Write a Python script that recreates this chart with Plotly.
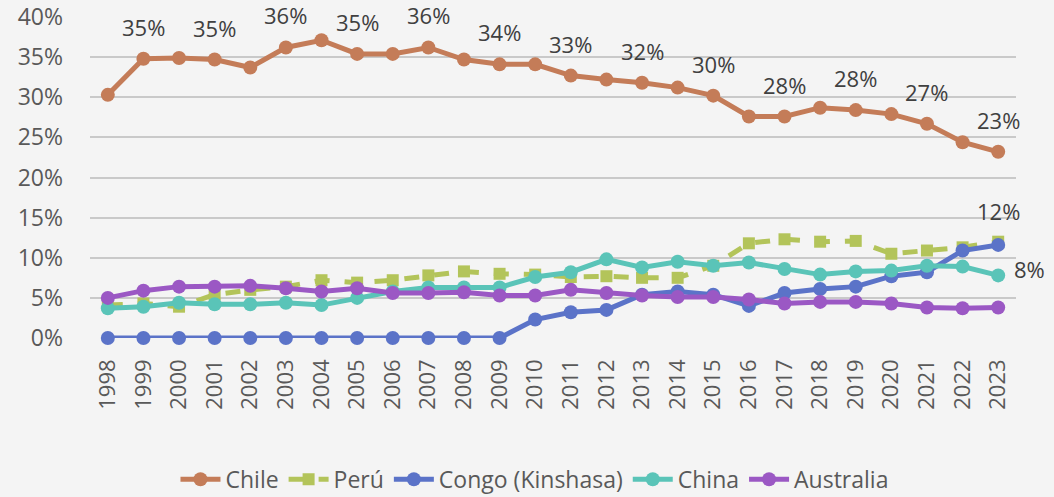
import plotly.graph_objects as go

years = list(range(1998, 2024))

chile = [30.3, 34.8, 34.9, 34.7, 33.7, 36.2, 37.1, 35.4, 35.4, 36.2, 34.7, 34.1, 34.1,
         32.7, 32.2, 31.8, 31.2, 30.2, 27.6, 27.6, 28.7, 28.4, 27.9, 26.7, 24.4, 23.2]
peru = [4.1, 4.3, 3.9, 5.4, 6.0, 6.4, 7.2, 6.9, 7.2, 7.8, 8.3, 8.0, 7.9,
        7.6, 7.7, 7.5, 7.5, 9.0, 11.8, 12.3, 12.0, 12.1, 10.5, 10.9, 11.3, 12.0]
congo = [0, 0, 0, 0, 0, 0, 0, 0, 0, 0, 0, 0, 2.3,
         3.2, 3.5, 5.4, 5.8, 5.4, 4.0, 5.6, 6.1, 6.4, 7.7, 8.2, 10.9, 11.6]
china = [3.7, 3.9, 4.4, 4.2, 4.2, 4.4, 4.1, 5.0, 5.8, 6.3, 6.3, 6.3, 7.6,
         8.2, 9.8, 8.8, 9.5, 9.0, 9.4, 8.6, 7.9, 8.3, 8.4, 9.0, 8.9, 7.8]
australia = [5.0, 5.9, 6.4, 6.4, 6.5, 6.2, 5.8, 6.2, 5.6, 5.6, 5.7, 5.3, 5.3,
             6.0, 5.6, 5.3, 5.1, 5.1, 4.8, 4.3, 4.5, 4.5, 4.3, 3.8, 3.7, 3.8]

y_ticks = [0, 5, 10, 15, 20, 25, 30, 35, 40]
y_tick_labels = [f"{v}%" for v in y_ticks]
x_tick_labels = [str(y) for y in years]

series = [
    ("Chile", chile, "#C47C58", "circle", "solid"),
    ("Perú", peru, "#B3C45A", "square", "dash"),
    ("Congo (Kinshasa)", congo, "#5B73C8", "circle", "solid"),
    ("China", china, "#5AC4B8", "circle", "solid"),
    ("Australia", australia, "#9B58C4", "circle", "solid"),
]

FONT = "Open Sans, Noto Sans, sans-serif"
TXT = "#595959"

fig = go.Figure()
for name, vals, color, sym, dash in series:
    fig.add_trace(go.Scatter(
        x=years, y=vals, name=name, mode="lines+markers",
        line=dict(color=color, width=5, dash=dash),
        marker=dict(symbol=sym, size=14 if sym == "circle" else 12, color=color),
        cliponaxis=False,
    ))

annotations = []
for i in range(1, len(years), 2):
    annotations.append(dict(x=years[i], y=chile[i], text=f"{round(chile[i])}%",
                            showarrow=False, yshift=32,
                            font=dict(family=FONT, size=22, color="#404040")))
annotations.append(dict(x=years[-1], y=peru[-1], text=f"{round(peru[-1])}%",
                        showarrow=False, yshift=31,
                        font=dict(family=FONT, size=22, color="#404040")))
annotations.append(dict(x=years[-1], y=china[-1], text=f"{round(china[-1])}%",
                        showarrow=False, xanchor="left", xshift=14, yshift=6,
                        font=dict(family=FONT, size=22, color="#404040")))

fig.update_layout(
    width=1054, height=497,
    margin=dict(l=90, r=38, t=17, b=159, autoexpand=False),
    paper_bgcolor="#f4f4f4",
    plot_bgcolor="rgba(0,0,0,0)",
    font=dict(family=FONT, color=TXT),
    showlegend=True,
    legend=dict(orientation="h", x=0.48, xanchor="center", y=-0.44, yanchor="middle",
                font=dict(family=FONT, size=23, color=TXT), bgcolor="rgba(0,0,0,0)",
                itemwidth=40),
    annotations=annotations,
    xaxis=dict(range=[years[0] - 0.5, years[-1] + 0.5], tickvals=years,
               ticktext=x_tick_labels, tickangle=-90, automargin=False,
               tickfont=dict(size=22, color=TXT), ticklabelstandoff=16,
               showgrid=False, showline=False, ticks="", zeroline=False),
    yaxis=dict(range=[0, 40], tickvals=y_ticks, ticktext=y_tick_labels,
               tickfont=dict(size=23, color=TXT), showgrid=True, automargin=False,
               ticklabelstandoff=26,
               gridcolor="#c9c9c9", gridwidth=1.5, zeroline=False, ticks="",
               showline=False),
)

fig.write_html("out.html", config={"displayModeBar": False},
               post_script="document.body.style.margin='0';document.body.style.overflow='hidden';")
